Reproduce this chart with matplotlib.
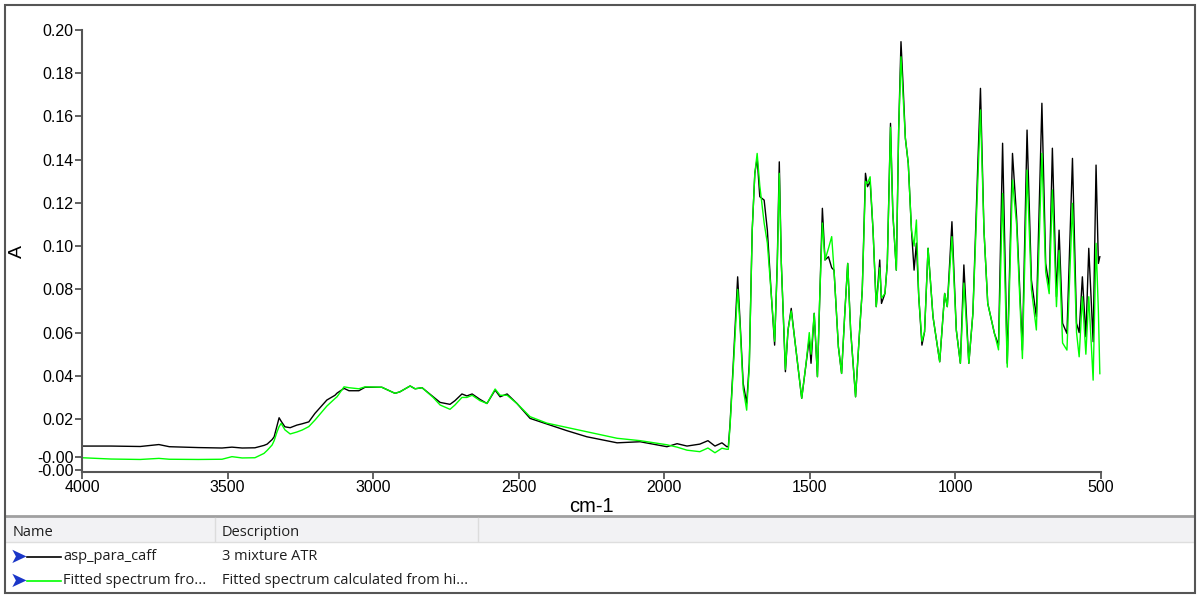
import numpy as np
import matplotlib.pyplot as plt
from matplotlib.patches import Rectangle
from matplotlib.lines import Line2D

# wavenumber (cm-1), measured spectrum, fitted spectrum
wavenumber = [
    4000, 3900, 3800, 3736, 3700, 3600, 3519, 3485, 3450, 3406,
    3375, 3364, 3347, 3340, 3330, 3323, 3316, 3303, 3285, 3262,
    3244, 3221, 3200, 3159, 3131, 3124, 3100, 3083, 3049, 3028,
    2970, 2925, 2908, 2873, 2856, 2832, 2794, 2770, 2736, 2719,
    2695, 2678, 2660, 2633, 2609, 2581, 2564, 2540, 2506, 2461,
    2403, 2334, 2266, 2162, 2083, 1991, 1956, 1922, 1878, 1850,
    1826, 1802, 1785,
    1780, 1774, 1763, 1748, 1740, 1729, 1717, 1708, 1698, 1689,
    1681, 1672, 1657, 1646, 1632, 1621, 1612, 1605, 1598, 1584,
    1575, 1564, 1553, 1528, 1513, 1502, 1496, 1485, 1474, 1466,
    1457, 1448, 1436, 1425, 1417, 1402, 1391, 1380, 1370, 1360,
    1343, 1329, 1320, 1309, 1302, 1293, 1283, 1272, 1260, 1254,
    1242, 1234, 1223, 1215, 1203, 1195, 1187, 1180, 1172, 1162,
    1151, 1142, 1134, 1126, 1115, 1106, 1094, 1077, 1054, 1037,
    1028, 1012, 997, 983, 971, 954, 940, 923, 914, 902,
    889, 866, 852, 838, 822, 804, 790, 770, 754, 739,
    722, 703, 690, 678, 667, 653, 644, 632, 617, 598,
    584, 575, 564, 552, 542, 527, 517, 509, 504,
]

measured = [
    0.0075, 0.0075, 0.0073, 0.0082, 0.0072, 0.0068, 0.0066, 0.0070, 0.0066, 0.0067,
    0.0078, 0.0084, 0.0105, 0.0118, 0.0170, 0.0206, 0.0190, 0.0164, 0.0160, 0.0172,
    0.0178, 0.0187, 0.0226, 0.0288, 0.0310, 0.0320, 0.0342, 0.0331, 0.0331, 0.0347,
    0.0347, 0.0319, 0.0326, 0.0353, 0.0340, 0.0345, 0.0303, 0.0277, 0.0268, 0.0285,
    0.0316, 0.0307, 0.0316, 0.0291, 0.0272, 0.0334, 0.0303, 0.0316, 0.0272, 0.0203,
    0.0177, 0.0146, 0.0118, 0.0090, 0.0095, 0.0072, 0.0086, 0.0075, 0.0084, 0.0100,
    0.0075, 0.0090, 0.0072,
    0.0072, 0.0180, 0.0458, 0.0858, 0.0658, 0.0365, 0.0273, 0.0459, 0.1074, 0.1337,
    0.1406, 0.1229, 0.1213, 0.1074, 0.0766, 0.0542, 0.0921, 0.1390, 0.0920, 0.0419,
    0.0612, 0.0712, 0.0581, 0.0296, 0.0458, 0.0573, 0.0458, 0.0689, 0.0396, 0.0766,
    0.1175, 0.0936, 0.0951, 0.0900, 0.0889, 0.0534, 0.0411, 0.0690, 0.0920, 0.0612,
    0.0303, 0.0612, 0.0797, 0.1337, 0.1275, 0.1300, 0.1074, 0.0720, 0.0936, 0.0735,
    0.0781, 0.0920, 0.1568, 0.1152, 0.0889, 0.1537, 0.1946, 0.1750, 0.1500, 0.1383,
    0.1074, 0.0889, 0.1014, 0.0766, 0.0542, 0.0604, 0.0990, 0.0673, 0.0465, 0.0781,
    0.0720, 0.1113, 0.0612, 0.0458, 0.0913, 0.0458, 0.0689, 0.1383, 0.1730, 0.1074,
    0.0735, 0.0596, 0.0542, 0.1476, 0.0458, 0.1429, 0.1136, 0.0519, 0.1537, 0.0843,
    0.0673, 0.1661, 0.0920, 0.0812, 0.1453, 0.0766, 0.1074, 0.0643, 0.0596, 0.1406,
    0.0643, 0.0600, 0.0858, 0.0581, 0.0990, 0.0558, 0.1375, 0.0920, 0.0951,
]

fitted = [
    0.0021, 0.0015, 0.0013, 0.0018, 0.0014, 0.0013, 0.0014, 0.0026, 0.0020, 0.0021,
    0.0041, 0.0055, 0.0080, 0.0100, 0.0141, 0.0165, 0.0180, 0.0150, 0.0131, 0.0140,
    0.0149, 0.0165, 0.0195, 0.0260, 0.0295, 0.0303, 0.0349, 0.0345, 0.0340, 0.0349,
    0.0347, 0.0319, 0.0326, 0.0353, 0.0340, 0.0345, 0.0300, 0.0265, 0.0245, 0.0265,
    0.0300, 0.0300, 0.0310, 0.0285, 0.0272, 0.0339, 0.0310, 0.0310, 0.0272, 0.0211,
    0.0181, 0.0161, 0.0141, 0.0111, 0.0100, 0.0081, 0.0070, 0.0056, 0.0049, 0.0066,
    0.0044, 0.0065, 0.0060,
    0.0060, 0.0170, 0.0440, 0.0800, 0.0640, 0.0340, 0.0241, 0.0440, 0.1074, 0.1337,
    0.1429, 0.1280, 0.1107, 0.1014, 0.0766, 0.0560, 0.0900, 0.1337, 0.0920, 0.0430,
    0.0612, 0.0700, 0.0581, 0.0296, 0.0458, 0.0600, 0.0500, 0.0689, 0.0396, 0.0766,
    0.1107, 0.0936, 0.0990, 0.1044, 0.0889, 0.0534, 0.0411, 0.0690, 0.0920, 0.0612,
    0.0303, 0.0612, 0.0797, 0.1300, 0.1290, 0.1321, 0.1074, 0.0720, 0.0900, 0.0760,
    0.0781, 0.0920, 0.1550, 0.1152, 0.0889, 0.1537, 0.1876, 0.1700, 0.1500, 0.1383,
    0.1074, 0.1000, 0.1121, 0.0766, 0.0560, 0.0604, 0.0990, 0.0673, 0.0465, 0.0781,
    0.0720, 0.1044, 0.0612, 0.0458, 0.0829, 0.0458, 0.0689, 0.1300, 0.1630, 0.1074,
    0.0735, 0.0596, 0.0520, 0.1244, 0.0440, 0.1306, 0.1100, 0.0480, 0.1352, 0.0800,
    0.0612, 0.1429, 0.0880, 0.0780, 0.1260, 0.0720, 0.0980, 0.0552, 0.0519, 0.1198,
    0.0600, 0.0488, 0.0766, 0.0500, 0.0766, 0.0380, 0.1013, 0.0700, 0.0410,
]

ytick_vals = [-0.0036, 0.0024, 0.02, 0.04, 0.06, 0.08, 0.10, 0.12, 0.14, 0.16, 0.18, 0.20]
ytick_text = ["-0.00", "-0.00", "0.02", "0.04", "0.06", "0.08", "0.10",
              "0.12", "0.14", "0.16", "0.18", "0.20"]
xtick_vals = [4000, 3500, 3000, 2500, 2000, 1500, 1000, 500]

legend_names = ["asp_para_caff", "Fitted spectrum fro..."]
legend_desc = ["3 mixture ATR", "Fitted spectrum calculated from hi..."]
legend_colors = ["black", "#00ff00"]

W, H = 1200, 597
fig = plt.figure(figsize=(W / 100, H / 100), dpi=100)
plt.rcParams['font.family'] = ['Liberation Sans', 'DejaVu Sans']


def fx(px):
    return px / W


def fy(py):
    return 1 - py / H


ax = fig.add_axes([fx(82), fy(472), fx(1101) - fx(82), fy(30) - fy(472)])
ax.plot(wavenumber, measured, color="black", lw=1.0)
ax.plot(wavenumber, fitted, color="#00ff00", lw=1.0)
ax.set_xlim(4000, 500)
ax.set_ylim(-0.0045, 0.20)
ax.set_xticks(xtick_vals)
ax.set_yticks(ytick_vals)
ax.set_yticklabels(ytick_text)
ax.tick_params(labelsize=11.5, length=5, width=1.3, color="#555555", pad=1)
for s in ["top", "right"]:
    ax.spines[s].set_visible(False)
for s in ["left", "bottom"]:
    ax.spines[s].set_color("#555555")
    ax.spines[s].set_linewidth(1.5)
ax.set_xlabel("cm-1", fontsize=14.5, labelpad=1)
ax.set_ylabel("A", fontsize=14, labelpad=8)

# outer frame
fig.add_artist(Rectangle((fx(5), fy(593)), fx(1195) - fx(5), fy(5) - fy(593),
                         transform=fig.transFigure, fill=False,
                         edgecolor="#555555", lw=1.5))

# legend table
fig.add_artist(Rectangle((fx(6), fy(542)), fx(1194) - fx(6), fy(517) - fy(542),
                         transform=fig.transFigure, facecolor="#f2f2f4",
                         edgecolor="none", zorder=-1))
fig.add_artist(Line2D([fx(6), fx(1194)], [fy(516), fy(516)],
                      transform=fig.transFigure, color="#a0a0a0", lw=2, zorder=-1))
fig.add_artist(Line2D([fx(6), fx(1194)], [fy(542), fy(542)],
                      transform=fig.transFigure, color="#dedede", lw=1, zorder=-1))
for xs in [215, 478]:
    fig.add_artist(Line2D([fx(xs), fx(xs)], [fy(518), fy(541)],
                          transform=fig.transFigure, color="#dcdcdc", lw=1, zorder=-1))

tfont = ['Open Sans', 'DejaVu Sans']
fig.text(fx(13), fy(532), "Name", fontsize=10.5, family=tfont, va="center", color="#1e1e1e")
fig.text(fx(222), fy(532), "Description", fontsize=10.5, family=tfont, va="center", color="#1e1e1e")

for i, (nm, ds, col) in enumerate(zip(legend_names, legend_desc, legend_colors)):
    y = 557 + 24 * i
    fig.text(fx(10), fy(y), "\u27a4", fontsize=15, family=['DejaVu Sans'],
             va="center", color="#1a36c8")
    fig.add_artist(Line2D([fx(27), fx(61)], [fy(y), fy(y)],
                          transform=fig.transFigure, color=col, lw=1.2))
    fig.text(fx(63), fy(y), nm, fontsize=10.5, family=tfont, va="center", color="#1e1e1e")
    fig.text(fx(222), fy(y), ds, fontsize=10.5, family=tfont, va="center", color="#1e1e1e")

fig.savefig("out.png", dpi=100)
